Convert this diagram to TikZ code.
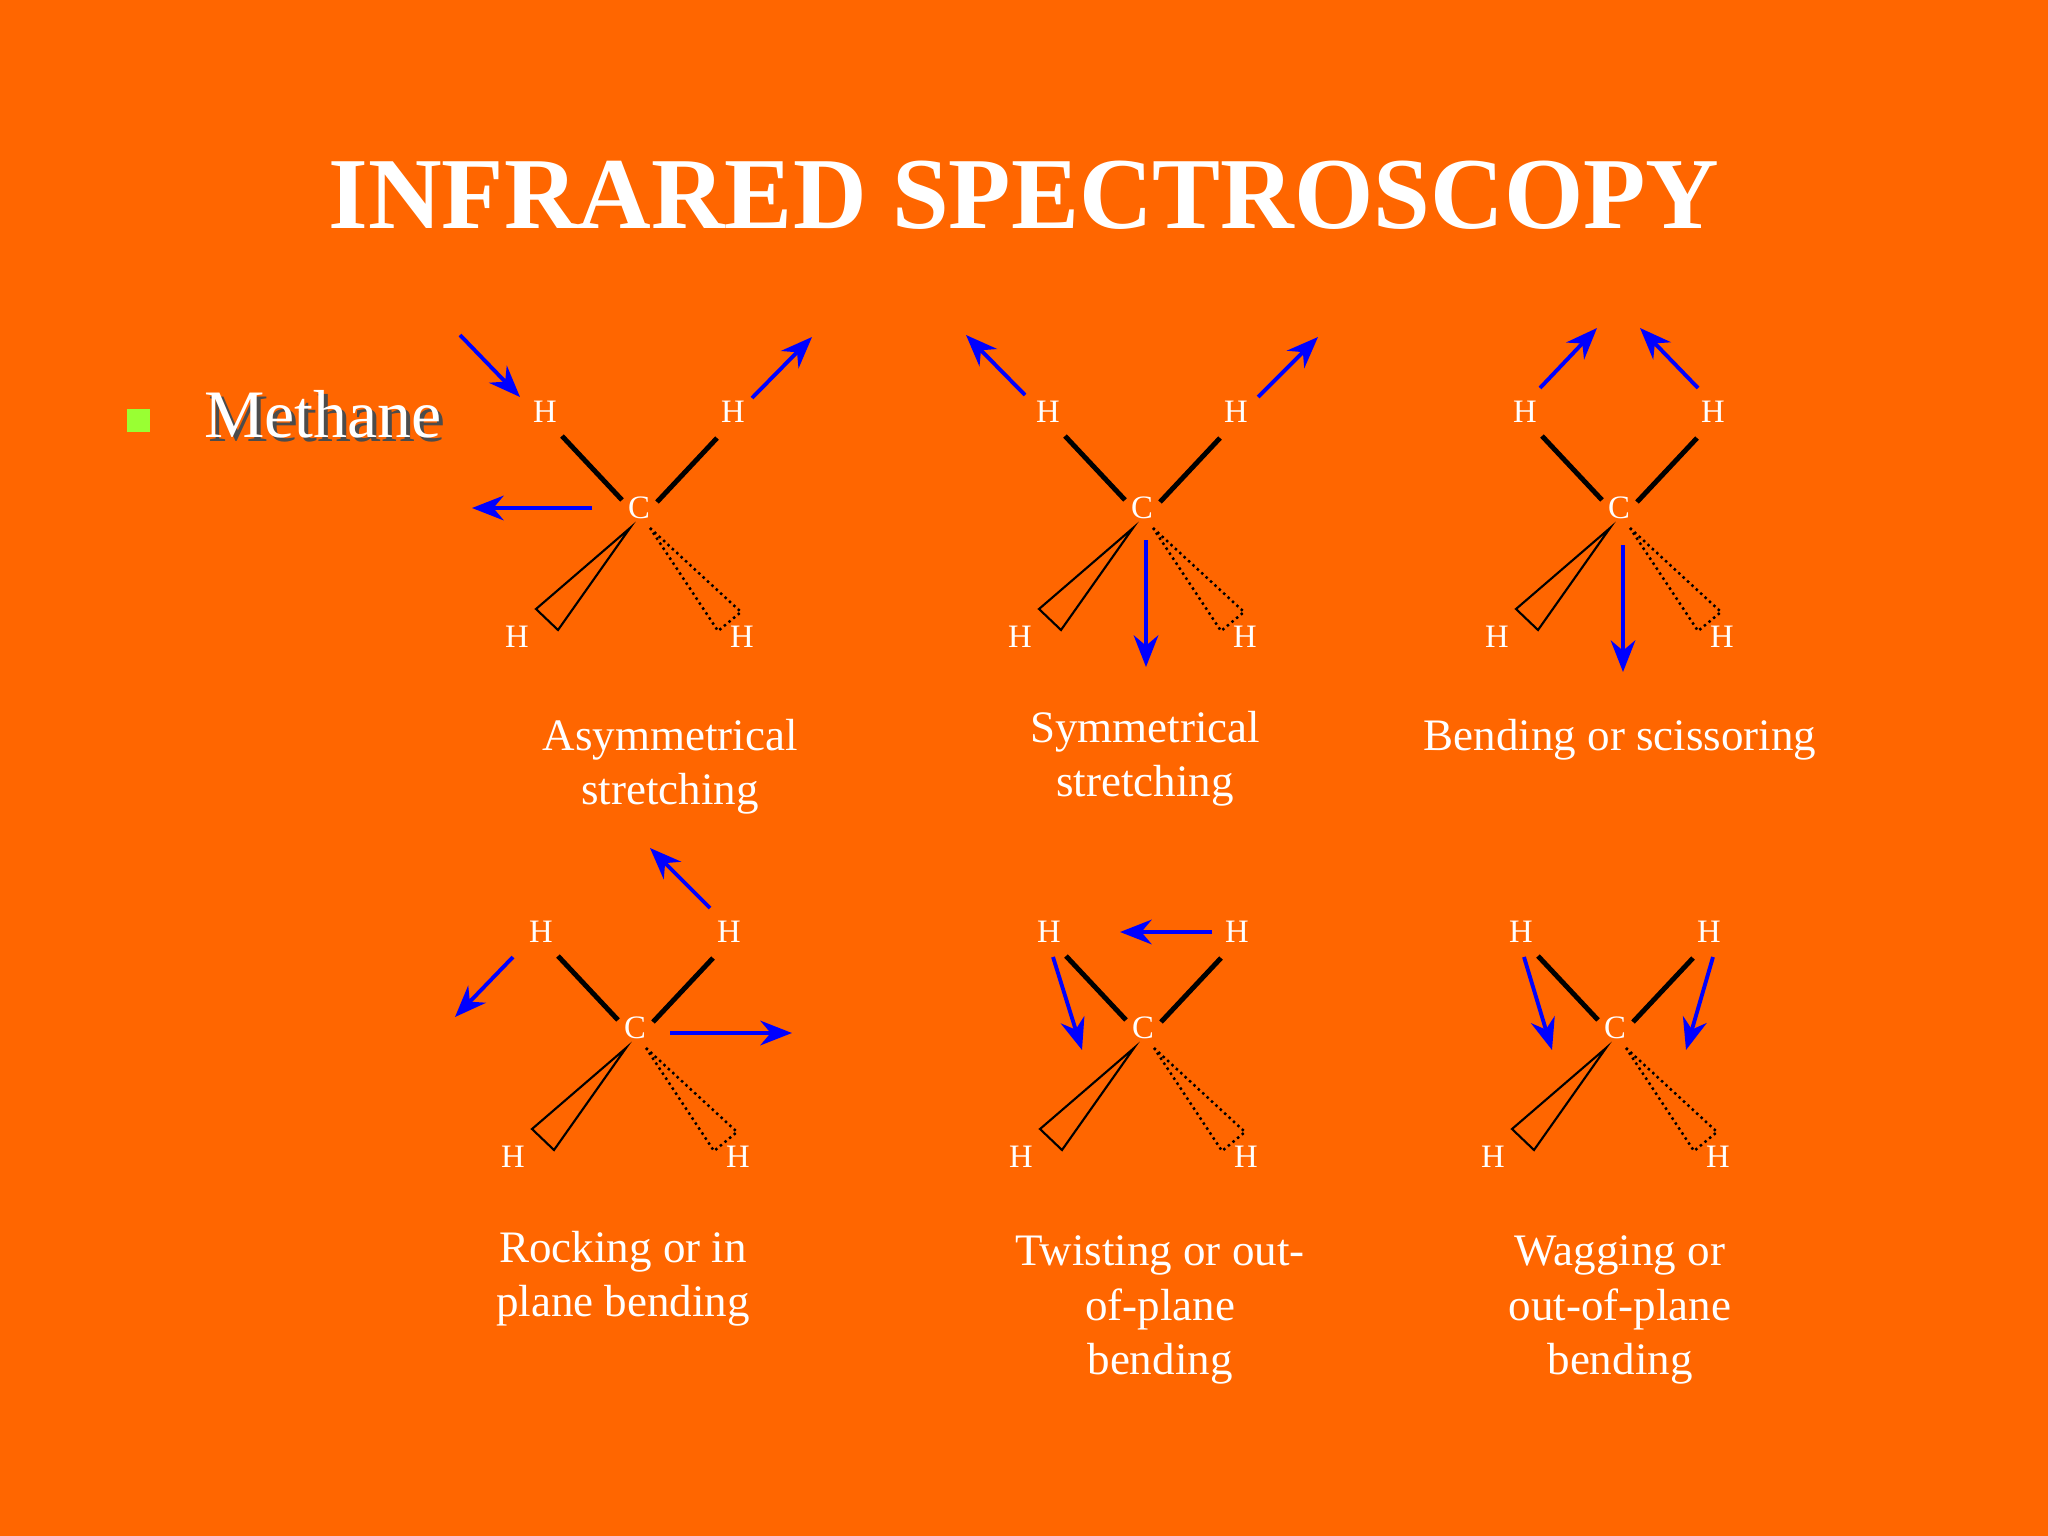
\documentclass[tikz,border=0pt]{standalone}
\usepackage{fontspec}
\setmainfont{Liberation Serif}
\usetikzlibrary{arrows.meta}
\definecolor{bg}{HTML}{FF6600}
\definecolor{ab}{HTML}{0000FF}
\definecolor{bul}{HTML}{99FF33}
\tikzset{
  atom/.style={text=white,font=\fontsize{9.3pt}{10pt}\selectfont,inner sep=0pt},
  bond/.style={black,line width=1.4pt},
  wedge/.style={black,line width=0.6pt},
  dwedge/.style={black,line width=0.7pt,densely dotted},
  mv/.style={ab,line width=1.1pt,-{Stealth[length=9pt,width=7pt]}},
  captxt/.style={text=white,font=\fontsize{12.8pt}{15.4pt}\selectfont,align=center}
}
\newcommand\molec[3]{%
\begin{scope}[shift={(#1,#2)}]
\node[atom] (#3C) at (0,0) {C};
\node[atom] (#3a) at (-94,-96) {H};
\node[atom] (#3b) at (94,-96) {H};
\node[atom] (#3c) at (-122,129) {H};
\node[atom] (#3d) at (103,129) {H};
\draw[bond] (-77,-72) -- (-17,-8);
\draw[bond] (78,-70) -- (18,-6);
\draw[wedge] (-9,20) -- (-103,101) -- (-81,122) -- cycle;
\draw[dwedge] (11,20) -- (102,104) -- (79,123) -- cycle;
\end{scope}}
\begin{document}
\begin{tikzpicture}[x=0.01cm,y=-0.01cm]
\fill[bg] (0,0) rectangle (2048,1536);
\useasboundingbox (0,0) rectangle (2048,1536);
\node[text=white,font=\bfseries\fontsize{29pt}{33pt}\selectfont] (title) at (1024,195) {INFRARED SPECTROSCOPY};
\fill[bul] (127,409) rectangle (150,432);
\node[text=black!70,font=\fontsize{19.3pt}{22pt}\selectfont,anchor=west] at (196,418) {Methane};
\node[text=white,font=\fontsize{19.3pt}{22pt}\selectfont,anchor=west] (meth) at (192,414) {Methane};
\molec{639}{508}{m1}
\molec{1142}{508}{m2}
\molec{1619}{508}{m3}
\molec{635}{1028}{m4}
\molec{1143}{1028}{m5}
\molec{1615}{1028}{m6}
% arrows
\draw[mv] (460,335) -- (520,397);
\draw[mv] (752,398) -- (812,337);
\draw[mv] (592,508) -- (472,508);
\draw[mv] (1025,395) -- (966,335);
\draw[mv] (1258,397) -- (1318,337);
\draw[mv] (1146,540) -- (1146,667);
\draw[mv] (1540,388) -- (1597,328);
\draw[mv] (1698,388) -- (1640,328);
\draw[mv] (1623,545) -- (1623,672);
\draw[mv] (710,908) -- (650,848);
\draw[mv] (513,957) -- (455,1017);
\draw[mv] (670,1033) -- (792,1033);
\draw[mv] (1212,932) -- (1120,932);
\draw[mv] (1053,957) -- (1082,1050);
\draw[mv] (1524,957) -- (1552,1050);
\draw[mv] (1713,957) -- (1686,1050);
% captions
\node[captxt] (c1) at (670,767) {Asymmetrical\\stretching};
\node[captxt] (c2) at (1145,759) {Symmetrical\\stretching};
\node[captxt] (c3) at (1620,740) {Bending or scissoring};
\node[captxt] (c4) at (623,1279) {Rocking or in\\plane bending};
\node[captxt] (c5) at (1160,1310) {Twisting or out-\\of-plane\\bending};
\node[captxt] (c6) at (1620,1310) {Wagging or\\out-of-plane\\bending};
\end{tikzpicture}
\end{document}
